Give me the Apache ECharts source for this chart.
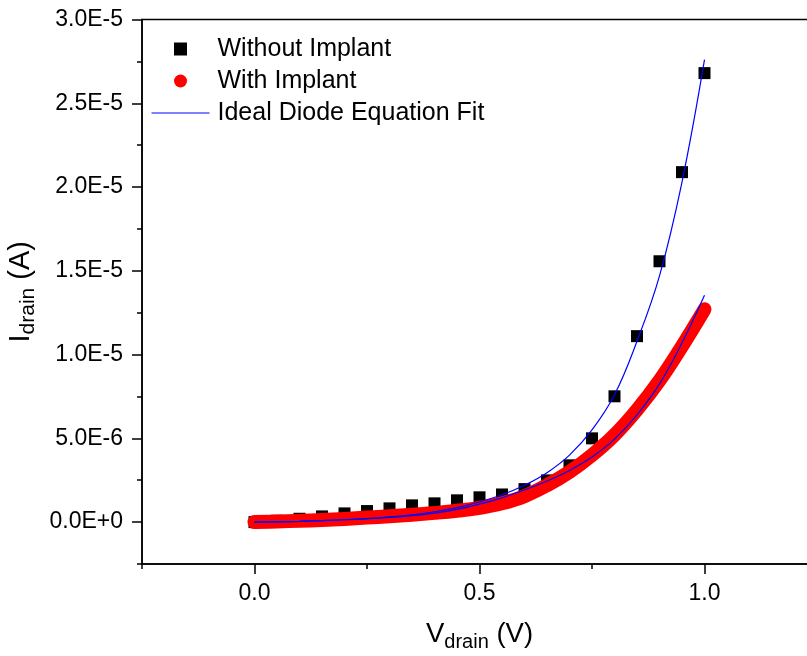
<!DOCTYPE html>
<html><head><meta charset="utf-8">
<script src="https://cdn.jsdelivr.net/npm/echarts@6/dist/echarts.min.js"></script>
<style>html,body{margin:0;padding:0;background:#fff}#c{width:807px;height:656px}</style>
</head><body><div id="c"></div>
<script>
const vDrain = [0,0.05,0.1,0.15,0.2,0.25,0.3,0.35,0.4,0.45,0.5,0.55,0.6,0.65,0.7,0.75,0.8,0.85,0.9,0.95,1.0];
const withoutImplant = [0,0.08e-6,0.2e-6,0.34e-6,0.52e-6,0.66e-6,0.82e-6,1.0e-6,1.12e-6,1.3e-6,1.48e-6,1.65e-6,1.97e-6,2.49e-6,3.39e-6,5.0e-6,7.51e-6,1.11e-5,1.557e-5,2.089e-5,2.68e-5];
const withImplant = [0,0.04e-6,0.08e-6,0.13e-6,0.19e-6,0.27e-6,0.35e-6,0.44e-6,0.55e-6,0.68e-6,0.85e-6,1.12e-6,1.55e-6,2.2e-6,3.0e-6,4.0e-6,5.2e-6,6.7e-6,8.45e-6,1.05e-5,1.27e-5];
const fitWithout = [0,0.02e-6,0.05e-6,0.09e-6,0.14e-6,0.21e-6,0.31e-6,0.44e-6,0.62e-6,0.87e-6,1.2e-6,1.63e-6,2.2e-6,2.95e-6,4.0e-6,5.5e-6,7.6e-6,1.08e-5,1.47e-5,2.03e-5,2.76e-5];
const fitWith = [0,0.02e-6,0.05e-6,0.09e-6,0.14e-6,0.2e-6,0.28e-6,0.39e-6,0.54e-6,0.76e-6,1.07e-6,1.45e-6,1.92e-6,2.45e-6,3.08e-6,3.88e-6,4.95e-6,6.4e-6,8.25e-6,1.07e-5,1.354e-5];

const xMajorTicks = [0, 0.5, 1.0];
const xTickLabels = ['0.0', '0.5', '1.0'];
const xMinorTicks = [-0.25, 0.25, 0.75, 1.25];
const yMajorTicks = [0, 5e-6, 1e-5, 1.5e-5, 2e-5, 2.5e-5, 3e-5];
const yTickLabels = ['0.0E+0', '5.0E-6', '1.0E-5', '1.5E-5', '2.0E-5', '2.5E-5', '3.0E-5'];
const yMinorTicks = [-2.5e-6, 2.5e-6, 7.5e-6, 1.25e-5, 1.75e-5, 2.25e-5, 2.75e-5];

const FONT = 'Liberation Sans, Arial, sans-serif';
function pairs(xs, ys) { return xs.map((x, i) => [x, ys[i]]); }
function lookup(ticks, labels) {
  return function (v) {
    for (let i = 0; i < ticks.length; i++) {
      if (Math.abs(ticks[i] - v) <= Math.abs(ticks[i]) * 1e-6 + 1e-12) return labels[i];
    }
    return '';
  };
}

const chart = echarts.init(document.getElementById('c'), null, {renderer: 'canvas'});
const axisLine = {show: true, onZero: false, lineStyle: {color: '#000', width: 1.5}};
chart.setOption({
  animation: false,
  backgroundColor: '#fff',
  grid: {left: 142, top: 19.5, width: 675, height: 544.5, show: true, borderColor: '#000', borderWidth: 1.5,
         containLabel: false, outerBoundsMode: 'none'},
  legend: {
    orient: 'vertical', left: 146.5, top: 30,
    itemWidth: 58, itemHeight: 13, itemGap: 4,
    symbolKeepAspect: true,
    textStyle: {fontFamily: FONT, fontSize: 25, color: '#000', lineHeight: 28, padding: [0, 0, 0, 3]},
    data: [
      {name: 'Without Implant', icon: 'path://M0,0L10,0L10,10L0,10Z'},
      {name: 'With Implant', icon: 'circle'},
      {name: 'Ideal Diode Equation Fit', icon: 'path://M0,0L58,0L58,1.2L0,1.2Z'}
    ]
  },
  xAxis: [
    {
      type: 'value', min: -0.25, max: 1.25, position: 'bottom',
      axisLine: axisLine,
      axisTick: {show: true, inside: false, length: 10, customValues: xMajorTicks, lineStyle: {color: '#000', width: 1.5}},
      axisLabel: {customValues: xMajorTicks, formatter: lookup(xMajorTicks, xTickLabels), margin: 18, fontFamily: FONT, fontSize: 23, color: '#000'},
      splitLine: {show: false},
      name: '{m|V}{s|drain}{m| (V)}', nameLocation: 'middle', nameGap: 52,
      nameTextStyle: {fontFamily: FONT, color: '#000', rich: {
        m: {fontFamily: FONT, fontSize: 27.5, color: '#000', lineHeight: 36, verticalAlign: 'middle'},
        s: {fontFamily: FONT, fontSize: 20, color: '#000', lineHeight: 15, verticalAlign: 'bottom'}
      }}
    },
    {
      type: 'value', min: -0.25, max: 1.25, position: 'bottom',
      axisLine: {show: false, onZero: false},
      axisTick: {show: true, inside: false, length: 5, customValues: xMinorTicks, lineStyle: {color: '#000', width: 1.5}},
      axisLabel: {show: false}, splitLine: {show: false}
    }
  ],
  yAxis: [
    {
      type: 'value', min: -2.5e-6, max: 3e-5, position: 'left',
      axisLine: axisLine,
      axisTick: {show: true, inside: false, length: 10, customValues: yMajorTicks, lineStyle: {color: '#000', width: 1.5}},
      axisLabel: {customValues: yMajorTicks, formatter: lookup(yMajorTicks, yTickLabels), margin: 19, fontFamily: FONT, fontSize: 23, color: '#000'},
      splitLine: {show: false},
      name: '{m|I}{s|drain}{m| (A)}', nameLocation: 'middle', nameRotate: 90, nameGap: 101,
      nameTextStyle: {fontFamily: FONT, color: '#000', rich: {
        m: {fontFamily: FONT, fontSize: 29, color: '#000', lineHeight: 36, verticalAlign: 'middle'},
        s: {fontFamily: FONT, fontSize: 21, color: '#000', lineHeight: 15, verticalAlign: 'bottom'}
      }}
    },
    {
      type: 'value', min: -2.5e-6, max: 3e-5, position: 'left',
      axisLine: {show: false, onZero: false},
      axisTick: {show: true, inside: false, length: 5, customValues: yMinorTicks, lineStyle: {color: '#000', width: 1.5}},
      axisLabel: {show: false}, splitLine: {show: false}
    }
  ],
  series: [
    {
      name: 'Without Implant', type: 'scatter', xAxisIndex: 0, yAxisIndex: 0,
      data: pairs(vDrain, withoutImplant), symbol: 'rect', symbolSize: 12,
      itemStyle: {color: '#000', opacity: 1}, z: 2
    },
    {
      name: 'With Implant', type: 'line', xAxisIndex: 0, yAxisIndex: 0,
      data: pairs(vDrain, withImplant), smooth: 0.4, symbol: 'none',
      itemStyle: {color: '#ff0000'},
      lineStyle: {color: '#ff0000', width: 14, cap: 'round', join: 'round'}, z: 3
    },
    {
      name: 'Ideal Diode Equation Fit', type: 'line', xAxisIndex: 0, yAxisIndex: 0,
      data: pairs(vDrain, fitWithout), smooth: 0.4, symbol: 'none',
      itemStyle: {color: '#0000ff'}, lineStyle: {color: '#0000ff', width: 1.2}, z: 4
    },
    {
      name: 'Ideal Diode Equation Fit', type: 'line', xAxisIndex: 0, yAxisIndex: 0,
      data: pairs(vDrain, fitWith), smooth: 0.4, symbol: 'none',
      itemStyle: {color: '#0000ff'}, lineStyle: {color: '#0000ff', width: 1.2}, z: 4
    }
  ]
});
</script>
</body></html>
